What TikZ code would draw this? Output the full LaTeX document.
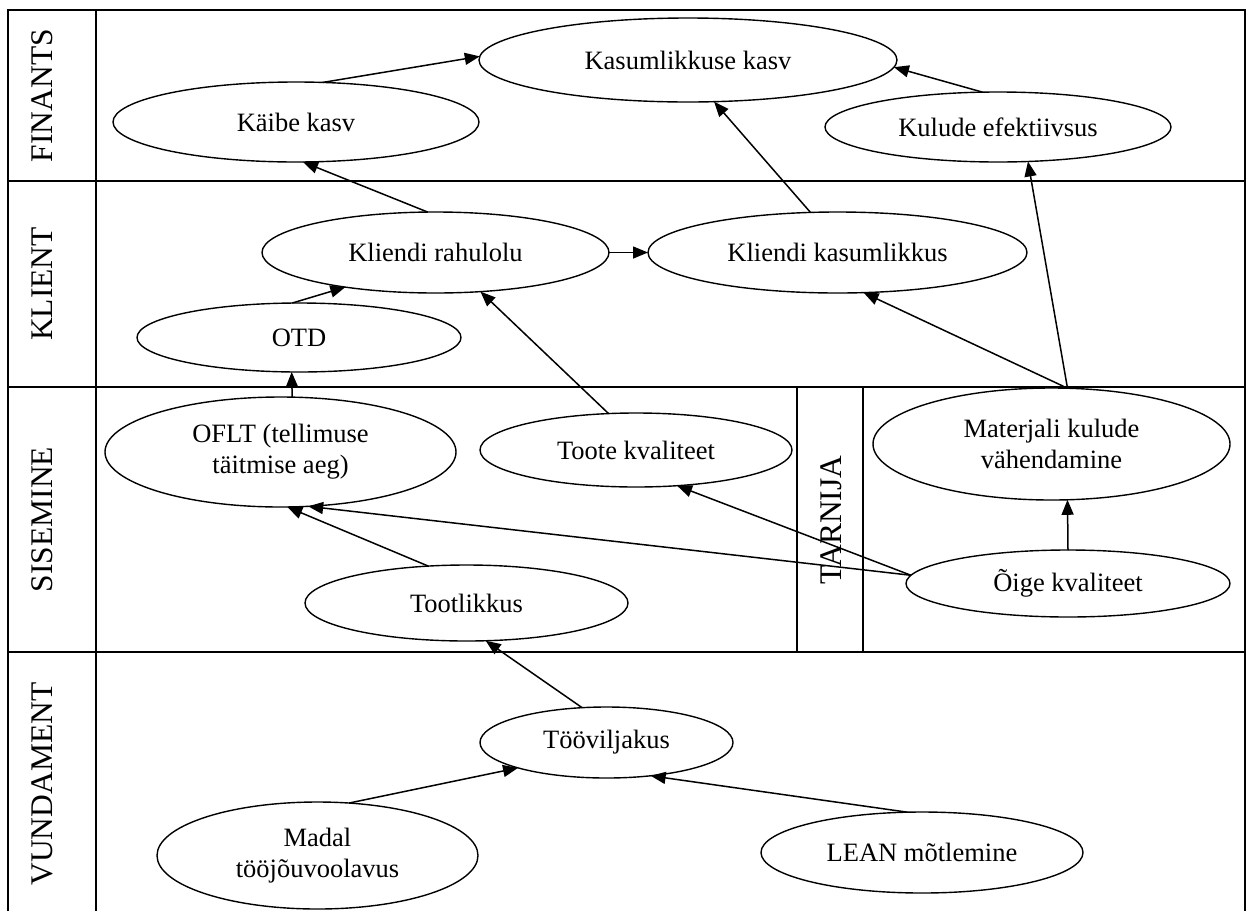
\documentclass[tikz,border=0pt]{standalone}
\usepackage{fontspec}
\setmainfont{Liberation Serif}
\usetikzlibrary{shapes.geometric,arrows.meta}
\begin{document}
\begin{tikzpicture}[x=1pt,y=-1pt,
  grid/.style={line width=2.2pt},
  goal/.style={draw,ellipse,line width=1.4pt,inner sep=0pt,outer sep=0pt,
    align=center,font=\fontsize{26.5}{31}\selectfont},
  lane/.style={rotate=90,inner sep=0pt,font=\fontsize{31.5}{36}\selectfont},
  link/.style={line width=1.5pt,-{Triangle[length=15pt,width=12pt]}},
]
\useasboundingbox (0,0) rectangle (1247,911);

% perspective rows
\draw[grid] (8,911) -- (8,10) -- (1245,10) -- (1245,911);
\draw[grid] (96,10) -- (96,911);
\draw[grid] (8,181) -- (1245,181);
\draw[grid] (8,387) -- (1245,387);
\draw[grid] (8,652) -- (1245,652);
\draw[grid] (797,387) -- (797,652);
\draw[grid] (863,387) -- (863,652);

% row titles
\node[lane] (lfin) at (42,95.5) {FINANTS};
\node[lane] (lkli) at (42,284) {KLIENT};
\node[lane] (lsis) at (42,519.5) {SISEMINE};
\node[lane] (lvun) at (42,784) {VUNDAMENT};
\node[lane] (ltar) at (831,520) {TARNIJA};

% objectives
\node[goal,minimum width=418pt,minimum height=84pt] (kk) at (688,60) {Kasumlikkuse kasv};
\node[goal,minimum width=366pt,minimum height=80pt] (kb) at (296,122) {Käibe kasv};
\node[goal,minimum width=346pt,minimum height=70pt] (ke) at (998,127) {Kulude efektiivsus};
\node[goal,minimum width=347pt,minimum height=81pt] (kr) at (435.5,252.5) {Kliendi rahulolu};
\node[goal,minimum width=379pt,minimum height=81pt] (kka) at (837.5,252.5) {Kliendi kasumlikkus};
\node[goal,minimum width=324pt,minimum height=69pt] (otd) at (299,337.5) {OTD};
\node[goal,minimum width=351pt,minimum height=110pt] (oflt) at (280.5,452) {OFLT (tellimuse\\täitmise aeg)};
\node[goal,minimum width=312pt,minimum height=74pt] (tk) at (636,450) {Toote kvaliteet};
\node[goal,minimum width=357pt,minimum height=112pt] (mat) at (1051.5,444) {Materjali kulude\\vähendamine};
\node[goal,minimum width=324pt,minimum height=67pt] (oige) at (1068,583.5) {Õige kvaliteet};
\node[goal,minimum width=323pt,minimum height=76pt] (tl) at (466.5,603) {Tootlikkus};
\node[goal,minimum width=253pt,minimum height=71pt] (tv) at (606.5,742.5) {Tööviljakus};
\node[goal,minimum width=321pt,minimum height=107pt] (mad) at (317.5,855.5) {Madal\\tööjõuvoolavus};
\node[goal,minimum width=322pt,minimum height=81pt] (lean) at (922,852.5) {LEAN mõtlemine};

% cause and effect links
\draw[link] (kb.56.7) -- (kk.179.4);
\draw[link] (ke.114.7) -- (kk.-2);
\draw[link] (kka.124.8) -- (kk.-58.8);
\draw[link] (kr.101.9) -- (kb.-80.3);
\draw[link] (kr.east) -- (kka.west);
\draw[link] (otd.101.5) -- (kr.201.5);
\draw[link] (oflt.78.2) -- (otd.258.5);
\draw[link] (tk.127) -- (kr.-41.4);
\draw[link] (oige.177.7) -- (tk.-41);
\draw[link] (oige.177.7) -- (oflt.-63.1);
\draw[link] (tl.136.2) -- (oflt.-83.3);
\draw[link] (oige.90) -- (mat.-74.5);
\draw[link] (mat.74.5) -- (kka.-57.5);
\draw[link] (mat.74.5) -- (ke.-49);
\draw[link] (tv.125.1) -- (tl.-63.9);
\draw[link] (mad.59.8) -- (tv.196.7);
\draw[link] (lean.110.4) -- (tv.-37.4);
\end{tikzpicture}
\end{document}
